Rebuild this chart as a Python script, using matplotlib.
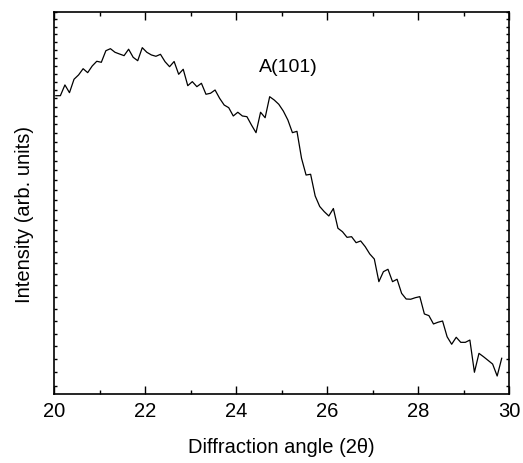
import numpy as np
import matplotlib
matplotlib.use("Agg")
import matplotlib.pyplot as plt
from matplotlib.ticker import MultipleLocator, NullFormatter, NullLocator

plt.rcParams['font.family'] = ['Liberation Sans', 'DejaVu Sans']

# Scan: 2-theta from 20.04 deg in 0.1 deg steps, intensity in counts
two_theta_start = 20.04
two_theta_step = 0.1
intensity = [
    7133, 7133, 7262, 7169, 7331, 7384, 7461, 7412, 7495, 7554,
    7541, 7688, 7714, 7668, 7646, 7625, 7707, 7604, 7561, 7727,
    7668, 7634, 7617, 7642, 7549, 7486, 7551, 7392, 7454, 7253,
    7302, 7241, 7282, 7150, 7162, 7201, 7102, 7023, 6992, 6896,
    6939, 6896, 6888, 6793, 6707, 6939, 6876, 7121, 7082, 7032,
    6953, 6850, 6707, 6722, 6427, 6250, 6258, 6036, 5931, 5880,
    5838, 5911, 5720, 5687, 5634, 5640, 5584, 5600, 5547, 5480,
    5434, 5233, 5321, 5342, 5233, 5254, 5132, 5084, 5082, 5095,
    5104, 4959, 4945, 4877, 4891, 4901, 4774, 4715, 4770, 4730,
    4730, 4748, 4500, 4644, 4618, 4590, 4562, 4472, 4606,
]
two_theta = two_theta_start + two_theta_step * np.arange(len(intensity))

y_lo, y_hi = 4340, 8200
peak_label = 'A(101)'
peak_label_pos = (24.5, 7470)

fig = plt.figure(figsize=(5.23, 4.63), dpi=100)
ax = fig.add_axes([54 / 523, 1 - 394 / 463, 455 / 523, 382 / 463])
ax.plot(two_theta, intensity, color='black', lw=0.9)

ax.set_yscale('log')
ax.set_xlim(20, 30)
ax.set_ylim(y_lo, y_hi)
ax.xaxis.set_major_locator(MultipleLocator(2))
ax.xaxis.set_minor_locator(MultipleLocator(1))
ax.yaxis.set_major_locator(MultipleLocator(100))
ax.yaxis.set_minor_locator(NullLocator())
ax.yaxis.set_major_formatter(NullFormatter())
ax.yaxis.set_minor_formatter(NullFormatter())
ax.tick_params(axis='x', which='major', direction='in', length=6, width=1,
               top=True, labelsize=14.5, pad=6)
ax.tick_params(axis='x', which='minor', direction='in', length=3, width=1, top=True)
ax.tick_params(axis='y', which='both', direction='in', length=2.5, width=1, right=True)
for s in ax.spines.values():
    s.set_linewidth(1.2)

ax.set_xlabel('Diffraction angle (2θ)', fontsize=14.5, labelpad=12)
ax.set_ylabel('Intensity (arb. units)', fontsize=14.5)
ax.yaxis.set_label_coords(-0.045, 0.47)
ax.text(*peak_label_pos, peak_label, fontsize=14, va='center', ha='left')

fig.savefig('out.png', dpi=100)
